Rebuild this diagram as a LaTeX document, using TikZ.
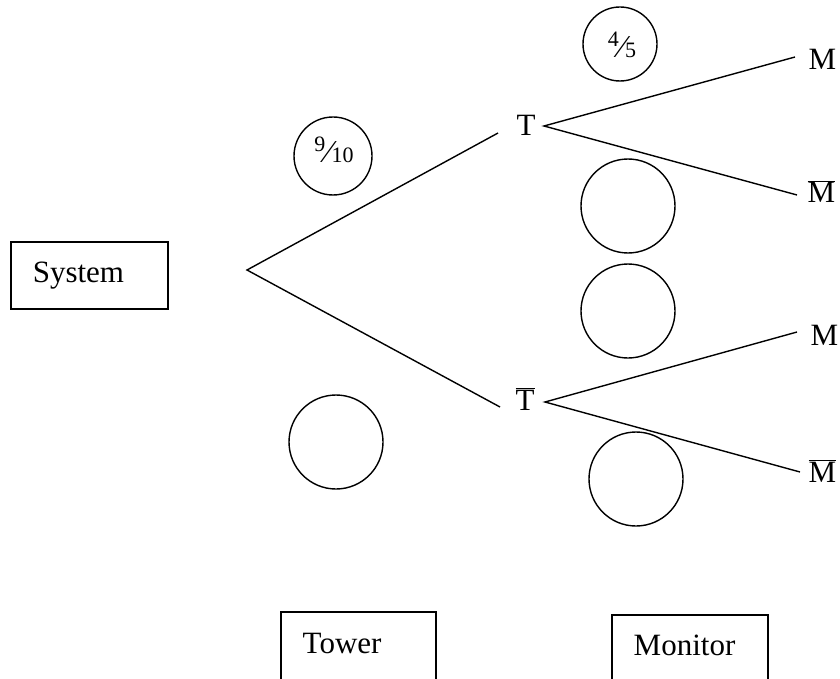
\documentclass[tikz,border=0pt]{standalone}
\usepackage{fontspec}
\setmainfont{Liberation Serif}
\newcommand\fracnum[2]{\raisebox{11pt}{\fontsize{22}{22}\selectfont #1}\kern0.5pt{\fontsize{32}{32}\selectfont ⁄}\kern0.5pt{\fontsize{22}{22}\selectfont #2}}
\newcommand\barred[1]{$\overline{\mbox{#1}}$}
\begin{document}
\begin{tikzpicture}[x=1pt,y=-1pt,line width=1.4pt,
  lbl/.style={inner sep=0pt,font=\fontsize{31}{36}\selectfont},
  ring/.style={draw,circle,inner sep=0pt,line width=1.4pt},
  boxed/.style={draw,line width=1.6pt,font=\fontsize{31}{36}\selectfont}]
\useasboundingbox (0,0) rectangle (840,679);
% system box
\node[boxed,anchor=west,minimum height=67pt,inner xsep=22pt,text width=113pt,align=left] (sys) at (10,275.5) {System};
% branch points
\coordinate (root) at (247,270);
\coordinate (tin) at (498,133);
\coordinate (tout) at (544,126);
\coordinate (fin) at (500,407);
\coordinate (fout) at (545,402);
\coordinate (e1) at (795,57);
\coordinate (e2) at (797,195);
\coordinate (e3) at (797,332);
\coordinate (e4) at (800,472);
\draw (tin) -- (root) -- (fin);
\draw (e1) -- (tout) -- (e2);
\draw (e3) -- (fout) -- (e4);
% labels
\node[lbl,anchor=base west] (T) at (516,136) {T};
\node[lbl,anchor=base west] (Tb) at (515,410) {\barred{T}};
\node[lbl,anchor=base west] (M1) at (808,70) {M};
\node[lbl,anchor=base west] (M2) at (807,203) {\barred{M}};
\node[lbl,anchor=base west] (M3) at (810,345) {M};
\node[lbl,anchor=base west] (M4) at (808,482) {\barred{M}};
% probability circles
\node[ring,minimum size=78pt] (p1) at (333,156) {};
\node[lbl] (p1t) at (334,150) {\fracnum{9}{10}};
\node[ring,minimum size=74pt] (p2) at (620,44) {};
\node[lbl] (p2t) at (622,45) {\fracnum{4}{5}};
\node[ring,minimum size=94pt] (p3) at (628,206) {};
\node[ring,minimum size=94pt] (p4) at (628,311) {};
\node[ring,minimum size=94pt] (p5) at (336,442) {};
\node[ring,minimum size=94pt] (p6) at (636,479) {};
% open bottom boxes
\draw[line width=1.6pt] (281,679) -- (281,612) -- (436,612) -- (436,679);
\node[lbl,anchor=base west] (tower) at (302,653) {Tower};
\draw[line width=1.6pt] (612,679) -- (612,615) -- (768,615) -- (768,679);
\node[lbl,anchor=base west] (monitor) at (633,655) {Monitor};
\end{tikzpicture}
\end{document}
